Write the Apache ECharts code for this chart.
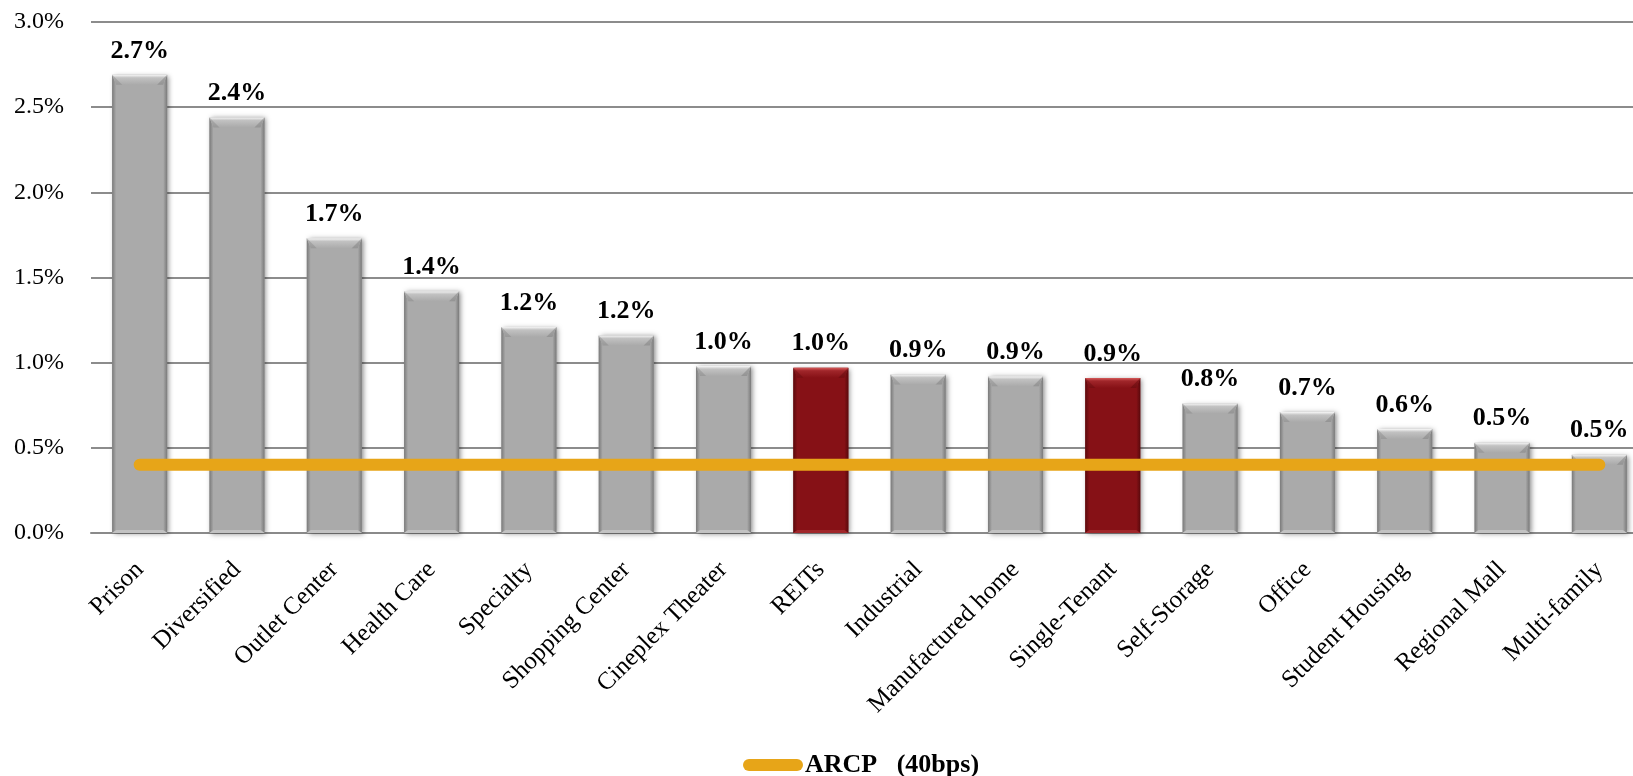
<!DOCTYPE html>
<html>
<head>
<meta charset="utf-8">
<script src="https://cdn.jsdelivr.net/npm/echarts@6/dist/echarts.min.js"></script>
<style>
  html, body { margin: 0; padding: 0; background: #fff; }
  #chart { width: 1633px; height: 776px; }
</style>
</head>
<body>
<div id="chart"></div>
<script>
// Sector spread data (percent)
const categories = ['Prison', 'Diversified', 'Outlet Center', 'Health Care', 'Specialty',
  'Shopping Center', 'Cineplex Theater', 'REITs', 'Industrial', 'Manufactured home',
  'Single-Tenant', 'Self-Storage', 'Office', 'Student Housing', 'Regional Mall', 'Multi-family'];
const spreads = [2.69, 2.44, 1.73, 1.42, 1.21, 1.16, 0.98, 0.97, 0.93, 0.92, 0.91, 0.76, 0.71, 0.61, 0.53, 0.46];
const highlighted = ['REITs', 'Single-Tenant'];
const arcpName = 'ARCP   (40bps)';
const arcpLevel = categories.map(() => 0.4);
const yTicks = { min: 0, max: 3, interval: 0.5 };

const SERIF = '"Liberation Serif", "Times New Roman", serif';

const palette = {
  gray: { body: '#aaaaaa', light: '#f6f6f6', mid: '#c2c2c2', dark: '#7a7a7a' },
  red:  { body: '#861116', light: '#d65a5a', mid: '#a0262a', dark: '#5a090c' }
};

function fmt(v) { return v.toFixed(1) + '%'; }

// Bevelled column drawn through the category/value scales
function renderBar(params, api) {
  const idx = api.value(0);
  const v = api.value(1);
  const base = api.coord([idx, 0]);
  const top = api.coord([idx, v]);
  const bw = api.size([1, 0])[0] * 0.565;
  const x0 = base[0] - bw / 2, x1 = base[0] + bw / 2;
  const y0 = top[1], yb = base[1];
  const c = highlighted.indexOf(categories[idx]) >= 0 ? palette.red : palette.gray;
  const b = 10, s = 4;
  return {
    type: 'group',
    children: [
      {
        type: 'rect',
        shape: { x: x0, y: y0, width: bw, height: yb - y0 },
        style: {
          fill: c.body,
          shadowBlur: 5, shadowColor: 'rgba(0,0,0,0.45)', shadowOffsetX: 2, shadowOffsetY: 1
        },
        textContent: {
          style: { text: fmt(v), font: 'bold 26px ' + SERIF, fill: '#000' }
        },
        textConfig: { position: 'top', distance: 11 }
      },
      // left edge
      {
        type: 'polygon',
        shape: { points: [[x0, y0], [x0 + s, y0 + b], [x0 + s, yb - 3], [x0, yb]] },
        style: { fill: new echarts.graphic.LinearGradient(0, 0, 1, 0, [
          { offset: 0, color: c.dark }, { offset: 1, color: c.body }]) }
      },
      // right edge
      {
        type: 'polygon',
        shape: { points: [[x1, y0], [x1 - s, y0 + b], [x1 - s, yb - 3], [x1, yb]] },
        style: { fill: new echarts.graphic.LinearGradient(0, 0, 1, 0, [
          { offset: 0, color: c.body }, { offset: 1, color: c.dark }]) }
      },
      // bottom edge
      {
        type: 'polygon',
        shape: { points: [[x0, yb], [x0 + s, yb - 3], [x1 - s, yb - 3], [x1, yb]] },
        style: { fill: c.mid }
      },
      // top bevel face
      {
        type: 'polygon',
        shape: { points: [[x0, y0], [x1, y0], [x1 - s, y0 + b], [x0 + s, y0 + b]] },
        style: { fill: new echarts.graphic.LinearGradient(0, 0, 0, 1, [
          { offset: 0, color: c.light }, { offset: 0.3, color: c.mid }, { offset: 1, color: c.body }]) }
      },
      // bevel corner shading
      {
        type: 'polygon',
        shape: { points: [[x0, y0], [x0 + s, y0 + b], [x0 + s + 6, y0 + b]] },
        style: { fill: c.dark, opacity: 0.35 }
      },
      {
        type: 'polygon',
        shape: { points: [[x1, y0], [x1 - s, y0 + b], [x1 - s - 6, y0 + b]] },
        style: { fill: c.dark, opacity: 0.45 }
      }
    ]
  };
}

const chart = echarts.init(document.getElementById('chart'), null, { renderer: 'canvas' });
chart.setOption({
  backgroundColor: '#fff',
  animation: false,
  grid: { left: 91, top: 22, width: 1557, height: 511, containLabel: false, outerBoundsMode: 'none' },
  legend: {
    top: 747,
    left: 738,
    data: [arcpName],
    icon: 'path://M6,0 H54 A6,6 0 0 1 54,12 H6 A6,6 0 0 1 6,0 Z',
    itemWidth: 62,
    itemHeight: 12,
    itemGap: 4,
    textStyle: { fontFamily: SERIF, fontWeight: 'bold', fontSize: 26, color: '#000', padding: [0, 0, 0, -4] }
  },
  xAxis: {
    type: 'category',
    data: categories,
    axisLine: { show: true, lineStyle: { color: '#8a8a8a', width: 2 } },
    axisTick: { show: false },
    axisLabel: {
      interval: 0, rotate: 45, margin: 33,
      fontFamily: SERIF, fontSize: 25, color: '#000'
    }
  },
  yAxis: {
    type: 'value',
    min: yTicks.min, max: yTicks.max, interval: yTicks.interval,
    axisLine: { show: false },
    axisTick: { show: false },
    splitLine: { lineStyle: { color: '#8c8c8c', width: 2 } },
    axisLabel: {
      margin: 27,
      fontFamily: SERIF, fontSize: 24, color: '#000',
      formatter: v => v.toFixed(1) + '%'
    }
  },
  series: [
    {
      name: 'Spread',
      type: 'custom',
      renderItem: renderBar,
      encode: { x: 0, y: 1 },
      data: spreads.map((v, i) => [i, v]),
      z: 2
    },
    {
      name: arcpName,
      type: 'line',
      data: arcpLevel,
      symbol: 'none',
      color: '#e7a518',
      lineStyle: { color: '#e7a518', width: 12, cap: 'round' },
      z: 5
    }
  ]
});
</script>
</body>
</html>
